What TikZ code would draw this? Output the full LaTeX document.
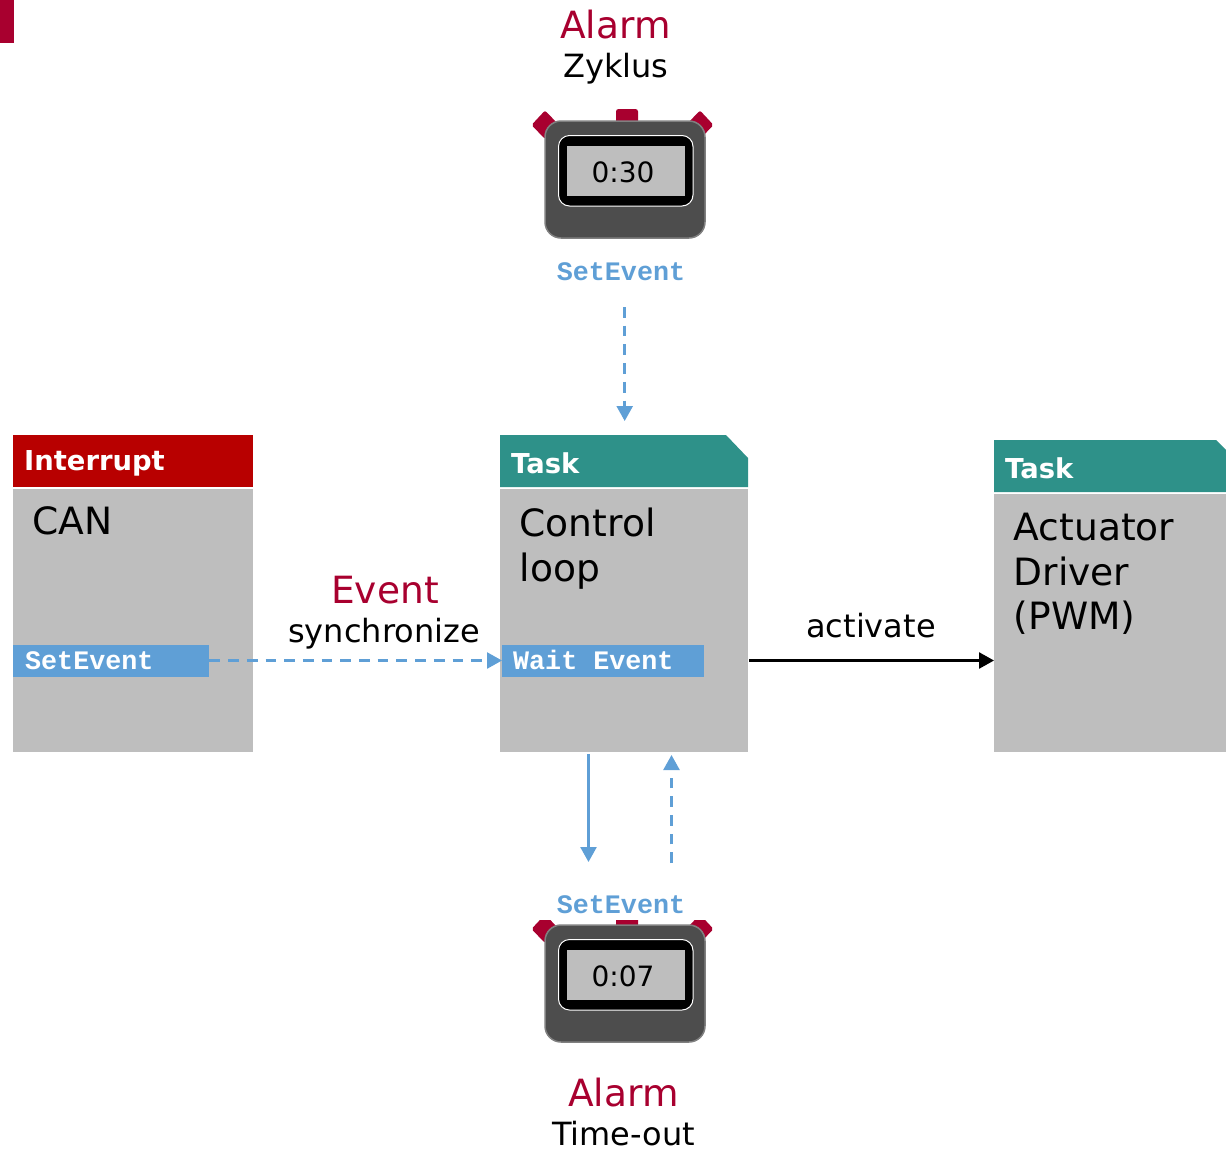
\documentclass[tikz,border=0pt]{standalone}
\usepackage{fontspec}
\usetikzlibrary{arrows.meta}
\setmainfont{DejaVu Sans}
\setmonofont{Liberation Mono}
\definecolor{alarmred}{HTML}{A8002F}
\definecolor{intred}{HTML}{B80000}
\definecolor{taskteal}{HTML}{2E9189}
\definecolor{bodygray}{HTML}{BEBEBE}
\definecolor{eventblue}{HTML}{5F9FD6}
\definecolor{watchgray}{HTML}{4D4D4D}
\newcommand{\fsz}[1]{\fontsize{#1}{#1}\selectfont}
\begin{document}
\begin{tikzpicture}[x=1pt,y=-1pt,line join=round,
	body/.style={fill=bodygray,anchor=north west,inner sep=0pt},
	head/.style={anchor=base west,text=white,font=\fsz{27.4}\bfseries,inner sep=0pt},
	bodytext/.style={anchor=north west,align=left,inner sep=0pt,font=\fontsize{37.6}{44.5}\selectfont},
	band/.style={fill=eventblue,anchor=west,text=white,inner sep=0pt,minimum height=32pt,font=\ttfamily\fsz{26.7}\bfseries,text height=17pt,text depth=0pt},
	setlabel/.style={fill=white,text=eventblue,inner sep=0pt,minimum height=30pt,minimum width=200pt,font=\ttfamily\fsz{26.7}\bfseries},
	redlabel/.style={anchor=base,text=alarmred,inner sep=0pt,font=\fsz{37.5}},
	blacklabel/.style={anchor=base,inner sep=0pt,font=\fsz{32}},
	eventline/.style={eventblue,line width=2.5pt,-{Triangle[length=15pt,width=16pt]}},
	dashline/.style={eventline,dash pattern=on 10.7pt off 8pt}]
	\useasboundingbox (0,0) rectangle (1226,1149);
	\fill[alarmred] (0,0) rectangle (14,43);
	
	% Interrupt
	\node[body,minimum width=240pt,minimum height=263pt] (canbody) at (13,489) {};
	\fill[intred] (13,435) rectangle (253,486.5);
	\node[head] (canhead) at (24,470) {Interrupt};
	\node[bodytext] (cantext) at (32,506) {CAN};
	\node[band,minimum width=196pt,text width=172pt] (setcan) at (13,660.5) {SetEvent};
	
	% Task
	\node[body,minimum width=248pt,minimum height=263pt] (ctrlbody) at (500,489) {};
	\fill[taskteal] (500,435) -- (726,435) -- (748,458) -- (748,487) -- (500,487) -- cycle;
	\node[head] (ctrlhead) at (511,473) {Task};
	\node[bodytext] (ctrltext) at (519.5,508) {Control\\loop};
	\node[band,minimum width=202pt,text width=180pt] (waitevent) at (502,660.5) {\spaceskip=16pt Wait Event};
	
	% Task 2
	\node[body,minimum width=232pt,minimum height=258pt] (pwmbody) at (994,494) {};
	\fill[taskteal] (994,440) -- (1216,440) -- (1226,450) -- (1226,492) -- (994,492) -- cycle;
	\node[head] (pwmhead) at (1005,478) {Task};
	\node[bodytext] (pwmtext) at (1013.5,513) {Actuator\\Driver\\(PWM)};
	
	% Stopwatches
	\foreach \n/\dy/\ly/\t in {top/0/272/0:30,bot/804/905/0:07}{
		\begin{scope}[yshift=-\dy pt]
			\fill[alarmred,rounded corners=2.5pt] (616,109) rectangle (638,125);
			\fill[alarmred,rounded corners=2pt] (545,110.5) -- (559,125) -- (545,139) -- (531.5,125) -- cycle;
			\fill[alarmred,rounded corners=2pt] (700,110.5) -- (713.5,125) -- (700,139) -- (686,125) -- cycle;
		\end{scope}
		\node[setlabel] (set\n) at (621,\ly) {SetEvent};
		\begin{scope}[yshift=-\dy pt]
			\draw[fill=watchgray,draw=gray,line width=1.5pt,rounded corners=16pt] (545,121) rectangle (705,238);
			\draw[fill=black,draw=white,line width=1pt,rounded corners=11pt] (558.5,135.5) rectangle (693,206);
			\node[fill=bodygray,inner sep=0pt,minimum width=118pt,minimum height=50pt] (disp\n) at (626,171) {};
			\node[inner sep=0pt,font=\fsz{28}] (time\n) at (623,172.5) {\t};
		\end{scope}
	}
	
	\path
	(624.7,307) coordinate (T1)
	(624.7,421) coordinate (T2)
	(588.5,754) coordinate (A1)
	(588.5,862) coordinate (A2)
	(671.5,863) coordinate (B1)
	(671.5,755) coordinate (B2)
	;
	\draw[dashline] (T1) -- (T2);
	\draw[eventline] (A1) -- (A2);
	\draw[dashline] (B1) -- (B2);
	\draw[dashline] (setcan.east) -- (waitevent.west);
	\draw[black,line width=2.5pt,-{Triangle[length=15pt,width=16pt]}] (ctrlbody.east |- setcan.east) ++(1,0) -- (pwmbody.west |- setcan.east);
	
	\node[redlabel] (alarmtop) at (615.5,38) {Alarm};
	\node[blacklabel] (zyklus) at (616,77) {Zyklus};
	\node[redlabel] (event) at (385,603) {Event};
	\node[blacklabel] (sync) at (384,642) {synchronize};
	\node[blacklabel] (activate) at (871,637) {activate};
	\node[redlabel] (alarmbot) at (623.5,1106) {Alarm};
	\node[blacklabel] (timeout) at (623.5,1145) {Time-out};
\end{tikzpicture}
\end{document}
